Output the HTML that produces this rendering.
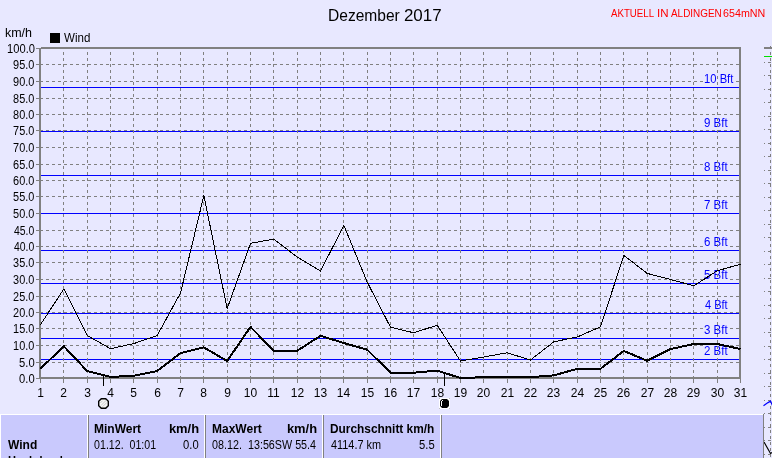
<!DOCTYPE html>
<html><head><meta charset="utf-8"><title>Wind Dezember 2017</title>
<style>
html,body{margin:0;padding:0;background:#E8E8FF;width:772px;height:458px;overflow:hidden}
text{font-family:"Liberation Sans",Arial,sans-serif;white-space:pre}
.ax{font-size:12px;fill:#000}
.bft{font-size:12px;fill:#0000FF}
.title{font-size:16px;fill:#000}
.red{font-size:11.5px;fill:#FF0000}
.tb{font-size:12px;font-weight:bold;fill:#000}
.tv{font-size:12px;fill:#000}
</style></head>
<body>
<svg width="772" height="458" viewBox="0 0 772 458" style="display:block">
<rect x="0" y="0" width="772" height="458" fill="#E8E8FF"/>
<path d="M40 64.5H739 M40 81.5H739 M40 98.5H739 M40 114.5H739 M40 130.5H739 M40 147.5H739 M40 164.5H739 M40 180.5H739 M40 196.5H739 M40 213.5H739 M40 230.5H739 M40 246.5H739 M40 262.5H739 M40 279.5H739 M40 296.5H739 M40 312.5H739 M40 328.5H739 M40 345.5H739 M40 362.5H739" stroke="#808080" stroke-width="1" stroke-dasharray="3 3" fill="none" shape-rendering="crispEdges"/>
<path d="M41 87.5H739 M41 131.5H739 M41 175.5H739 M41 213.5H739 M41 250.5H739 M41 283.5H739 M41 313.5H739 M41 338.5H739 M41 359.5H739" stroke="#0000FF" stroke-width="1" fill="none" shape-rendering="crispEdges"/>
<rect x="703" y="73" width="33" height="11" fill="#E8E8FF"/>
<text x="704.07" y="83" class="bft" textLength="29.27" lengthAdjust="spacingAndGlyphs">10 Bft</text>
<rect x="703" y="117" width="27" height="11" fill="#E8E8FF"/>
<text x="704.04" y="127" class="bft" textLength="23.61" lengthAdjust="spacingAndGlyphs">9 Bft</text>
<rect x="703" y="161" width="27" height="11" fill="#E8E8FF"/>
<text x="704.04" y="171" class="bft" textLength="23.61" lengthAdjust="spacingAndGlyphs">8 Bft</text>
<rect x="703" y="199" width="27" height="11" fill="#E8E8FF"/>
<text x="704.04" y="209" class="bft" textLength="23.61" lengthAdjust="spacingAndGlyphs">7 Bft</text>
<rect x="703" y="236" width="27" height="11" fill="#E8E8FF"/>
<text x="704.04" y="246" class="bft" textLength="23.61" lengthAdjust="spacingAndGlyphs">6 Bft</text>
<rect x="703" y="269" width="27" height="11" fill="#E8E8FF"/>
<text x="704.04" y="279" class="bft" textLength="23.61" lengthAdjust="spacingAndGlyphs">5 Bft</text>
<rect x="703" y="299" width="27" height="11" fill="#E8E8FF"/>
<text x="705.0" y="309" class="bft" textLength="22.63" lengthAdjust="spacingAndGlyphs">4 Bft</text>
<rect x="703" y="324" width="27" height="11" fill="#E8E8FF"/>
<text x="704.04" y="334" class="bft" textLength="23.61" lengthAdjust="spacingAndGlyphs">3 Bft</text>
<rect x="703" y="345" width="27" height="11" fill="#E8E8FF"/>
<text x="704.04" y="355" class="bft" textLength="23.61" lengthAdjust="spacingAndGlyphs">2 Bft</text>
<path d="M63.5 379V48 M87.5 379V48 M110.5 379V48 M133.5 379V48 M157.5 379V48 M180.5 379V48 M203.5 379V48 M227.5 379V48 M250.5 379V48 M273.5 379V48 M297.5 379V48 M320.5 379V48 M343.5 379V48 M367.5 379V48 M390.5 379V48 M413.5 379V48 M437.5 379V48 M460.5 379V48 M483.5 379V48 M507.5 379V48 M530.5 379V48 M553.5 379V48 M577.5 379V48 M600.5 379V48 M623.5 379V48 M647.5 379V48 M670.5 379V48 M693.5 379V48 M717.5 379V48" stroke="#808080" stroke-width="1" stroke-dasharray="3 3" fill="none" shape-rendering="crispEdges"/>
<g fill="#808080" shape-rendering="crispEdges">
<rect x="41" y="47" width="700" height="2"/>
<rect x="39" y="48" width="2" height="331"/>
<rect x="739" y="47" width="2" height="332"/>
<rect x="39" y="377" width="702" height="2"/>
<rect x="36" y="48" width="3" height="1"/>
<rect x="36" y="64" width="3" height="1"/>
<rect x="36" y="81" width="3" height="1"/>
<rect x="36" y="98" width="3" height="1"/>
<rect x="36" y="114" width="3" height="1"/>
<rect x="36" y="130" width="3" height="1"/>
<rect x="36" y="147" width="3" height="1"/>
<rect x="36" y="164" width="3" height="1"/>
<rect x="36" y="180" width="3" height="1"/>
<rect x="36" y="196" width="3" height="1"/>
<rect x="36" y="213" width="3" height="1"/>
<rect x="36" y="230" width="3" height="1"/>
<rect x="36" y="246" width="3" height="1"/>
<rect x="36" y="262" width="3" height="1"/>
<rect x="36" y="279" width="3" height="1"/>
<rect x="36" y="296" width="3" height="1"/>
<rect x="36" y="312" width="3" height="1"/>
<rect x="36" y="328" width="3" height="1"/>
<rect x="36" y="345" width="3" height="1"/>
<rect x="36" y="362" width="3" height="1"/>
<rect x="36" y="378" width="3" height="1"/>
<rect x="40" y="379" width="1" height="4"/>
<rect x="63" y="379" width="1" height="4"/>
<rect x="87" y="379" width="1" height="4"/>
<rect x="110" y="379" width="1" height="4"/>
<rect x="133" y="379" width="1" height="4"/>
<rect x="157" y="379" width="1" height="4"/>
<rect x="180" y="379" width="1" height="4"/>
<rect x="203" y="379" width="1" height="4"/>
<rect x="227" y="379" width="1" height="4"/>
<rect x="250" y="379" width="1" height="4"/>
<rect x="273" y="379" width="1" height="4"/>
<rect x="297" y="379" width="1" height="4"/>
<rect x="320" y="379" width="1" height="4"/>
<rect x="343" y="379" width="1" height="4"/>
<rect x="367" y="379" width="1" height="4"/>
<rect x="390" y="379" width="1" height="4"/>
<rect x="413" y="379" width="1" height="4"/>
<rect x="437" y="379" width="1" height="4"/>
<rect x="460" y="379" width="1" height="4"/>
<rect x="483" y="379" width="1" height="4"/>
<rect x="507" y="379" width="1" height="4"/>
<rect x="530" y="379" width="1" height="4"/>
<rect x="553" y="379" width="1" height="4"/>
<rect x="577" y="379" width="1" height="4"/>
<rect x="600" y="379" width="1" height="4"/>
<rect x="623" y="379" width="1" height="4"/>
<rect x="647" y="379" width="1" height="4"/>
<rect x="670" y="379" width="1" height="4"/>
<rect x="693" y="379" width="1" height="4"/>
<rect x="717" y="379" width="1" height="4"/>
<rect x="740" y="379" width="1" height="4"/>
</g>
<clipPath id="pc"><rect x="39" y="47" width="702" height="332"/></clipPath>
<g clip-path="url(#pc)"><polyline points="40.50,324.6 63.83,289.0 87.17,335.5 110.50,348.7 133.83,343.6 157.17,335.5 180.50,293.0 203.83,195.6 227.17,308.6 250.50,243.3 273.83,239.1 297.17,257.0 320.50,271.1 343.83,225.4 367.17,282.0 390.50,327.2 413.83,332.8 437.17,325.2 460.50,361.0 483.83,357.0 507.17,352.8 530.50,360.0 553.83,341.8 577.17,337.0 600.50,326.8 623.83,255.4 647.17,273.4 670.50,279.5 693.83,285.8 717.17,270.8 740.50,264.2" fill="none" stroke="#000" stroke-width="1" shape-rendering="crispEdges"/>
<polyline points="40.50,368.7 63.83,346.2 87.17,371.0 110.50,376.9 133.83,375.8 157.17,371.0 180.50,353.2 203.83,347.4 227.17,361.0 250.50,326.9 273.83,350.8 297.17,350.8 320.50,335.8 343.83,343.0 367.17,349.7 390.50,372.7 413.83,372.7 437.17,370.6 460.50,378.0 483.83,377.2 507.17,377.2 530.50,377.2 553.83,375.4 577.17,368.8 600.50,368.8 623.83,350.9 647.17,360.8 670.50,349.1 693.83,344.0 717.17,344.0 740.50,349.0" fill="none" stroke="#000" stroke-width="2" stroke-linejoin="round" shape-rendering="crispEdges"/></g>
<g shape-rendering="crispEdges" fill="#000"><rect x="103" y="376" width="1" height="10"/><rect x="444" y="373" width="1" height="13"/></g>
<polygon points="101,398 106,398 109,401 109,406 106,409 101,409 98,406 98,401" fill="#000"/>
<polygon points="101.6,399.4 105.4,399.4 107.6,401.6 107.6,405.4 105.4,407.6 101.6,407.6 99.4,405.4 99.4,401.6" fill="#F6F6F6"/>
<path d="M101 405.5L106.5 400M102.5 406.8L106.8 402.5M100.3 403L102.5 400.8" stroke="#C4C4C4" stroke-width="0.9" fill="none"/>
<g shape-rendering="crispEdges"><rect x="439" y="398" width="11" height="11" fill="#FFFFFF"/>
<rect x="439" y="398" width="1" height="1" fill="#C0C0C0"/><rect x="449" y="398" width="1" height="1" fill="#C0C0C0"/><rect x="439" y="408" width="1" height="1" fill="#C0C0C0"/><rect x="449" y="408" width="1" height="1" fill="#C0C0C0"/></g>
<polygon points="442,399 447,399 449,401 449,406 447,408 442,408 440,406 440,401" fill="#000"/>
<g shape-rendering="crispEdges" fill="#FFFFFF"><rect x="441" y="401" width="1" height="5"/><rect x="442" y="400" width="1" height="1"/></g>
<text x="7.07" y="53" class="ax" textLength="27.89" lengthAdjust="spacingAndGlyphs">100.0</text>
<text x="13.09" y="69" class="ax" textLength="21.24" lengthAdjust="spacingAndGlyphs">95.0</text>
<text x="13.09" y="86" class="ax" textLength="21.24" lengthAdjust="spacingAndGlyphs">90.0</text>
<text x="13.09" y="103" class="ax" textLength="21.24" lengthAdjust="spacingAndGlyphs">85.0</text>
<text x="13.09" y="119" class="ax" textLength="21.24" lengthAdjust="spacingAndGlyphs">80.0</text>
<text x="13.09" y="135" class="ax" textLength="21.24" lengthAdjust="spacingAndGlyphs">75.0</text>
<text x="13.09" y="152" class="ax" textLength="21.24" lengthAdjust="spacingAndGlyphs">70.0</text>
<text x="13.09" y="169" class="ax" textLength="21.24" lengthAdjust="spacingAndGlyphs">65.0</text>
<text x="13.09" y="185" class="ax" textLength="21.24" lengthAdjust="spacingAndGlyphs">60.0</text>
<text x="13.09" y="201" class="ax" textLength="21.24" lengthAdjust="spacingAndGlyphs">55.0</text>
<text x="13.09" y="218" class="ax" textLength="21.24" lengthAdjust="spacingAndGlyphs">50.0</text>
<text x="14.0" y="235" class="ax" textLength="20.31" lengthAdjust="spacingAndGlyphs">45.0</text>
<text x="14.0" y="251" class="ax" textLength="20.31" lengthAdjust="spacingAndGlyphs">40.0</text>
<text x="13.09" y="267" class="ax" textLength="21.24" lengthAdjust="spacingAndGlyphs">35.0</text>
<text x="13.09" y="284" class="ax" textLength="21.24" lengthAdjust="spacingAndGlyphs">30.0</text>
<text x="13.09" y="301" class="ax" textLength="21.24" lengthAdjust="spacingAndGlyphs">25.0</text>
<text x="13.09" y="317" class="ax" textLength="21.24" lengthAdjust="spacingAndGlyphs">20.0</text>
<text x="13.09" y="333" class="ax" textLength="21.24" lengthAdjust="spacingAndGlyphs">15.0</text>
<text x="13.09" y="350" class="ax" textLength="21.24" lengthAdjust="spacingAndGlyphs">10.0</text>
<text x="19.07" y="367" class="ax" textLength="15.58" lengthAdjust="spacingAndGlyphs">5.0</text>
<text x="19.07" y="383" class="ax" textLength="15.58" lengthAdjust="spacingAndGlyphs">0.0</text>
<text x="40.5" y="397" class="ax" text-anchor="middle">1</text>
<text x="63.5" y="397" class="ax" text-anchor="middle">2</text>
<text x="87.5" y="397" class="ax" text-anchor="middle">3</text>
<text x="110.5" y="397" class="ax" text-anchor="middle">4</text>
<text x="133.5" y="397" class="ax" text-anchor="middle">5</text>
<text x="157.5" y="397" class="ax" text-anchor="middle">6</text>
<text x="180.5" y="397" class="ax" text-anchor="middle">7</text>
<text x="203.5" y="397" class="ax" text-anchor="middle">8</text>
<text x="227.5" y="397" class="ax" text-anchor="middle">9</text>
<text x="250.5" y="397" class="ax" text-anchor="middle">10</text>
<text x="273.5" y="397" class="ax" text-anchor="middle">11</text>
<text x="297.5" y="397" class="ax" text-anchor="middle">12</text>
<text x="320.5" y="397" class="ax" text-anchor="middle">13</text>
<text x="343.5" y="397" class="ax" text-anchor="middle">14</text>
<text x="367.5" y="397" class="ax" text-anchor="middle">15</text>
<text x="390.5" y="397" class="ax" text-anchor="middle">16</text>
<text x="413.5" y="397" class="ax" text-anchor="middle">17</text>
<text x="437.5" y="397" class="ax" text-anchor="middle">18</text>
<text x="460.5" y="397" class="ax" text-anchor="middle">19</text>
<text x="483.5" y="397" class="ax" text-anchor="middle">20</text>
<text x="507.5" y="397" class="ax" text-anchor="middle">21</text>
<text x="530.5" y="397" class="ax" text-anchor="middle">22</text>
<text x="553.5" y="397" class="ax" text-anchor="middle">23</text>
<text x="577.5" y="397" class="ax" text-anchor="middle">24</text>
<text x="600.5" y="397" class="ax" text-anchor="middle">25</text>
<text x="623.5" y="397" class="ax" text-anchor="middle">26</text>
<text x="647.5" y="397" class="ax" text-anchor="middle">27</text>
<text x="670.5" y="397" class="ax" text-anchor="middle">28</text>
<text x="693.5" y="397" class="ax" text-anchor="middle">29</text>
<text x="717.5" y="397" class="ax" text-anchor="middle">30</text>
<text x="740.5" y="397" class="ax" text-anchor="middle">31</text>
<text x="328.03" y="21" class="title" textLength="71.79" lengthAdjust="spacingAndGlyphs">Dezember</text>
<text x="403.94" y="21" class="title" textLength="37.69" lengthAdjust="spacingAndGlyphs">2017</text>
<text x="611.0" y="17" class="red" textLength="43.12" lengthAdjust="spacingAndGlyphs">AKTUELL</text>
<text x="657.0" y="17" class="red" textLength="11.5" lengthAdjust="spacingAndGlyphs">IN</text>
<text x="671.0" y="17" class="red" textLength="50.69" lengthAdjust="spacingAndGlyphs">ALDINGEN</text>
<text x="723.07" y="17" class="red" textLength="42.22" lengthAdjust="spacingAndGlyphs">654mNN</text>
<text x="4.96" y="37" class="ax" textLength="27.1" lengthAdjust="spacingAndGlyphs">km/h</text>
<text x="64.0" y="42" class="ax" textLength="26.33" lengthAdjust="spacingAndGlyphs">Wind</text>
<rect x="50" y="33" width="10" height="10" fill="#000"/>
<g shape-rendering="crispEdges">
<rect x="764" y="47" width="8" height="2" fill="#808080"/>
<rect x="764" y="56" width="8" height="1" fill="#00E000"/>
<path d="M770.5 46V458" stroke="#808080" stroke-width="1" stroke-dasharray="3 3"/>
<g fill="#808080"><rect x="764" y="62" width="1" height="1"/><rect x="768" y="62" width="3" height="1"/><rect x="764" y="75" width="1" height="1"/><rect x="768" y="75" width="3" height="1"/><rect x="764" y="89" width="1" height="1"/><rect x="768" y="89" width="3" height="1"/><rect x="764" y="102" width="1" height="1"/><rect x="768" y="102" width="3" height="1"/><rect x="764" y="116" width="1" height="1"/><rect x="768" y="116" width="3" height="1"/><rect x="764" y="129" width="1" height="1"/><rect x="768" y="129" width="3" height="1"/><rect x="764" y="143" width="1" height="1"/><rect x="768" y="143" width="3" height="1"/><rect x="764" y="156" width="1" height="1"/><rect x="768" y="156" width="3" height="1"/><rect x="764" y="170" width="1" height="1"/><rect x="768" y="170" width="3" height="1"/><rect x="764" y="183" width="1" height="1"/><rect x="768" y="183" width="3" height="1"/><rect x="764" y="197" width="1" height="1"/><rect x="768" y="197" width="3" height="1"/><rect x="764" y="210" width="1" height="1"/><rect x="768" y="210" width="3" height="1"/><rect x="764" y="224" width="1" height="1"/><rect x="768" y="224" width="3" height="1"/><rect x="764" y="237" width="1" height="1"/><rect x="768" y="237" width="3" height="1"/><rect x="764" y="251" width="1" height="1"/><rect x="768" y="251" width="3" height="1"/><rect x="764" y="264" width="1" height="1"/><rect x="768" y="264" width="3" height="1"/><rect x="764" y="278" width="1" height="1"/><rect x="768" y="278" width="3" height="1"/><rect x="764" y="291" width="1" height="1"/><rect x="768" y="291" width="3" height="1"/><rect x="764" y="305" width="1" height="1"/><rect x="768" y="305" width="3" height="1"/><rect x="764" y="318" width="1" height="1"/><rect x="768" y="318" width="3" height="1"/><rect x="764" y="332" width="1" height="1"/><rect x="768" y="332" width="3" height="1"/><rect x="764" y="346" width="1" height="1"/><rect x="768" y="346" width="3" height="1"/><rect x="764" y="359" width="1" height="1"/><rect x="768" y="359" width="3" height="1"/><rect x="764" y="373" width="1" height="1"/><rect x="768" y="373" width="3" height="1"/><rect x="764" y="386" width="1" height="1"/><rect x="768" y="386" width="3" height="1"/><rect x="764" y="400" width="1" height="1"/><rect x="768" y="400" width="3" height="1"/><rect x="764" y="413" width="1" height="1"/><rect x="768" y="413" width="3" height="1"/><rect x="764" y="427" width="1" height="1"/><rect x="768" y="427" width="3" height="1"/><rect x="764" y="440" width="1" height="1"/><rect x="768" y="440" width="3" height="1"/><rect x="764" y="454" width="1" height="1"/><rect x="768" y="454" width="3" height="1"/></g>
</g>
<path d="M763.5 405.8L768 402.6L770.6 401.2L772.5 405.5" stroke="#0000FF" stroke-width="1.2" fill="none"/>
<path d="M764 442L770.5 453.5L772 452.5" stroke="#000" stroke-width="1.2" fill="none"/>
<g shape-rendering="crispEdges">
<rect x="0" y="414" width="763" height="44" fill="#FFFFFF"/>
<rect x="1" y="415" width="86" height="43" fill="#C9C9FD"/>
<rect x="89" y="415" width="115" height="43" fill="#C9C9FD"/>
<rect x="206" y="415" width="116" height="43" fill="#C9C9FD"/>
<rect x="324" y="415" width="116" height="43" fill="#C9C9FD"/>
<rect x="442" y="415" width="321" height="43" fill="#C9C9FD"/>
<rect x="88" y="415" width="1" height="44" fill="#808080"/>
<rect x="205" y="415" width="1" height="44" fill="#808080"/>
<rect x="323" y="415" width="1" height="44" fill="#808080"/>
<rect x="441" y="415" width="1" height="44" fill="#808080"/>
<rect x="763" y="414" width="1" height="44" fill="#808080"/>
</g>
<text x="8.0" y="449" class="tb" textLength="29.22" lengthAdjust="spacingAndGlyphs">Wind</text>
<text x="94.0" y="433" class="tb" textLength="47.11" lengthAdjust="spacingAndGlyphs">MinWert</text>
<text x="168.92" y="433" class="tb" textLength="30.17" lengthAdjust="spacingAndGlyphs">km/h</text>
<text x="94.12" y="449" class="tv" textLength="61.94" lengthAdjust="spacingAndGlyphs">01.12.  01:01</text>
<text x="183.07" y="449" class="tv" textLength="15.58" lengthAdjust="spacingAndGlyphs">0.0</text>
<text x="212.0" y="433" class="tb" textLength="49.8" lengthAdjust="spacingAndGlyphs">MaxWert</text>
<text x="286.92" y="433" class="tb" textLength="30.17" lengthAdjust="spacingAndGlyphs">km/h</text>
<text x="212.1" y="449" class="tv" textLength="103.98" lengthAdjust="spacingAndGlyphs">08.12.  13:56SW 55.4</text>
<text x="330.01" y="433" class="tb" textLength="104.35" lengthAdjust="spacingAndGlyphs">Durchschnitt km/h</text>
<text x="331.0" y="449" class="tv" textLength="50.05" lengthAdjust="spacingAndGlyphs">4114.7 km</text>
<text x="419.07" y="449" class="tv" textLength="15.58" lengthAdjust="spacingAndGlyphs">5.5</text>
<text x="8" y="465" class="tb" textLength="58" lengthAdjust="spacingAndGlyphs">Hochdruck</text>
</svg>
</body></html>
